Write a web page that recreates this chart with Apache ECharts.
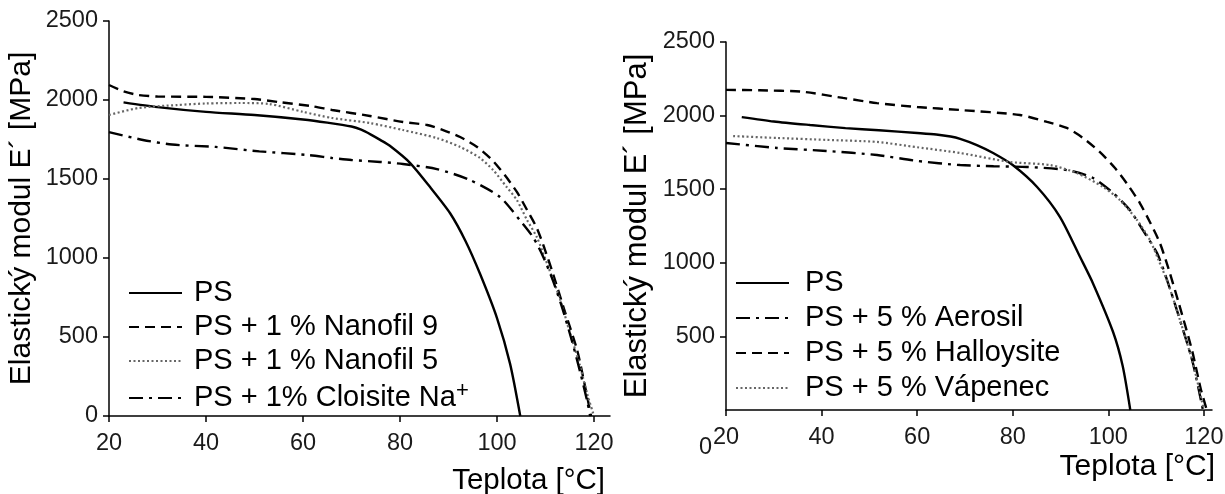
<!DOCTYPE html>
<html><head><meta charset="utf-8">
<script src="https://cdn.jsdelivr.net/npm/echarts@6/dist/echarts.min.js"></script>
<style>html,body{margin:0;padding:0;background:#fff}#c{width:1225px;height:494px}</style>
</head><body><div id="c"></div>
<script>
// ---- data (temperature °C, modulus MPa) ----
const xTicks = [20, 40, 60, 80, 100, 120];
const yTicks = [0, 500, 1000, 1500, 2000, 2500];
const yTicksRight = [500, 1000, 1500, 2000, 2500];

const namesLeft = ['PS', 'PS + 1 % Nanofil 9', 'PS + 1 % Nanofil 5', 'PS + 1% Cloisite Na+'];
const namesRight = ['PS', 'PS + 5 % Aerosil', 'PS + 5 % Halloysite', 'PS + 5 % Vápenec'];

const L_PS = [[23,1985],[30,1955],[40,1925],[50,1905],[60,1877],[65,1857],[70,1832],[72,1812],[74,1781],[76,1746],[77.9,1710],[82.1,1601],[86.2,1449],[90.3,1285],[93.5,1108],[96.5,900],[100,620],[102.7,330],[104.8,0]];
const L_NF9 = [[20,2095],[23,2055],[26,2032],[30,2022],[40,2020],[50,2006],[55,1987],[62,1960],[66,1937],[73.8,1899],[80.6,1861],[85.6,1842],[88.9,1810],[92.4,1766],[95.9,1703],[99,1620],[101.6,1525],[104.1,1418],[106.2,1304],[108.2,1190],[109.8,1060],[111.5,905],[114,660],[116.5,420],[118,210],[119.4,0]];
const L_NF5 = [[20,1905],[26,1949],[34,1968],[40,1978],[47,1981],[53,1975],[60,1925],[66,1886],[73.8,1854],[80.6,1810],[87.6,1759],[92.4,1703],[96.5,1633],[99.2,1557],[102,1449],[104.1,1367],[106.2,1240],[108.2,1133],[110.5,950],[113,740],[115,530],[117,330],[118.5,150],[120,0]];
const L_CL = [[20,1797],[27,1747],[33,1718],[42,1703],[51,1675],[61,1652],[66,1633],[70,1620],[75.9,1608],[80.6,1595],[87.6,1563],[94.4,1494],[100.6,1386],[104.7,1240],[107.4,1133],[109.5,1010],[111.5,860],[113.5,680],[115.5,470],[117.3,260],[118.7,80],[119.2,0]];

const R_PS = [[23.3,1990],[30,1960],[37.6,1936],[45,1915],[52,1900],[60,1882],[64,1872],[67,1858],[69,1842],[72.5,1800],[75.9,1746],[80,1664],[85.1,1515],[89.9,1311],[94.1,1039],[96.8,860],[101,530],[103,300],[104.6,0]];
const R_AE = [[20,1814],[30.7,1780],[41,1760],[51.6,1732],[60,1692],[69,1664],[76,1656],[83,1651],[91.3,1630],[96.8,1576],[101,1474],[104.5,1359],[107.2,1223],[110.2,1066],[112.3,883],[115,611],[117.7,319],[119.8,0]];
const R_HA = [[20,2175],[27,2172],[36,2162],[44.5,2120],[51.6,2085],[60,2058],[69,2038],[81.5,2004],[87.2,1957],[91.3,1916],[94.7,1848],[98.2,1753],[101.4,1644],[104.1,1529],[106.6,1406],[108.7,1277],[110.8,1134],[112.6,960],[114.8,720],[117.5,408],[119.3,150],[120.6,0]];
const R_VA = [[21.5,1861],[30.7,1848],[41,1835],[51.6,1821],[60,1785],[69,1746],[79.4,1685],[87.8,1664],[93.4,1610],[98.9,1515],[102.4,1427],[106,1291],[108.7,1155],[110.5,1020],[112.5,860],[115,611],[117.7,319],[120,0]];

// ---- styles ----
const FONT = 'Liberation Sans, Arial, sans-serif';
const TXT = '#1a1a1a';
const solid = {color:'#000', width:2.4, type:'solid'};
const dashed = {color:'#000', width:2.4, type:[10,6]};
const dotted = {color:'#666', width:2.2, type:[2,2.5]};
const dashdot = {color:'#000', width:2.4, type:[14,6,3,6]};

function xAxis(gi, max, gap) {
  return {type:'value', gridIndex:gi, min:20, max:max, interval:20,
    axisLine:{onZero:false, lineStyle:{color:'#000', width:1.5}},
    axisTick:{length:6, lineStyle:{color:'#000', width:1.5}, customValues:xTicks},
    axisLabel:{customValues:xTicks, fontSize:23.5, fontFamily:FONT, color:TXT, margin:16, formatter:function(v){return String(v);}},
    splitLine:{show:false},
    name:'Teplota [°C]', nameLocation:'end', nameGap:gap,
    nameTextStyle:{fontSize:gi===0?29.5:30, fontFamily:FONT, color:'#000', align:'right', verticalAlign:'top', padding:[gi===0?50:42,0,0,0]}
  };
}
function yAxis(gi, labels, gap) {
  return {type:'value', gridIndex:gi, min:0, max:2500, interval:500,
    axisLine:{show:true, onZero:false, lineStyle:{color:'#000', width:1.5}},
    axisTick:{show:true, length:6, lineStyle:{color:'#000', width:1.5}, customValues:labels},
    axisLabel:{customValues:labels, fontSize:23.5, fontFamily:FONT, color:TXT, margin:11, formatter:function(v){return String(v);}},
    splitLine:{show:false},
    name:'Elastický modul E´ [MPa]', nameLocation:'middle', nameGap:gap, nameRotate:90,
    nameTextStyle:{fontSize:gi===0?30:31, fontFamily:FONT, color:'#000'}
  };
}
function line(name, data, style, xi) {
  return {type:'line', name:name, xAxisIndex:xi, yAxisIndex:xi, data:data,
    showSymbol:false, symbol:'none', smooth:0.25, lineStyle:style, itemStyle:{color:style.color},
    animation:false, z:3};
}
function legend(names, left, top, gap, textPad) {
  return {orient:'vertical', left:left, top:top, data:names, itemWidth:53, itemHeight:14,
    itemGap:gap, selectedMode:false,
    itemStyle:{color:'rgba(0,0,0,0)', borderWidth:0, opacity:0},
    textStyle:{fontSize:29, fontFamily:FONT, color:'#000', lineHeight:30, padding:[0,0,0,textPad],
      rich:{sup:{fontSize:22, fontFamily:FONT, color:'#000', lineHeight:10, padding:[0,0,14,0]}}},
    formatter:function(n){ return n.slice(-3)==='Na+' ? n.slice(0,-1)+'{sup|+}' : n; }
  };
}

const chart = echarts.init(document.getElementById('c'), null, {renderer:'canvas'});
chart.setOption({
  backgroundColor:'#fff',
  animation:false,
  grid:[
    {left:109, top:21, width:501, height:395, containLabel:false, outerBoundsMode:'none'},
    {left:726, top:42, width:486, height:368, containLabel:false, outerBoundsMode:'none'}
  ],
  xAxis:[xAxis(0, 123.3, -5), xAxis(1, 121.7, 3)],
  yAxis:[yAxis(0, yTicks, 72), yAxis(1, yTicksRight, 73)],
  legend:[legend(namesLeft, 123, 273, 4, 7), legend(namesRight, 730, 263, 5, 11)],
  series:[
    line(namesLeft[0], L_PS, solid, 0),
    line(namesLeft[1], L_NF9, dashed, 0),
    line(namesLeft[2], L_NF5, dotted, 0),
    line(namesLeft[3], L_CL, dashdot, 0),
    line(namesRight[0], R_PS, solid, 1),
    line(namesRight[1], R_AE, dashdot, 1),
    line(namesRight[2], R_HA, dashed, 1),
    line(namesRight[3], R_VA, dotted, 1)
  ],
  graphic:[{type:'text', left:699, top:436, style:{text:'0', fontSize:23.5, fontFamily:FONT, fill:TXT}}]
});
</script></body></html>
